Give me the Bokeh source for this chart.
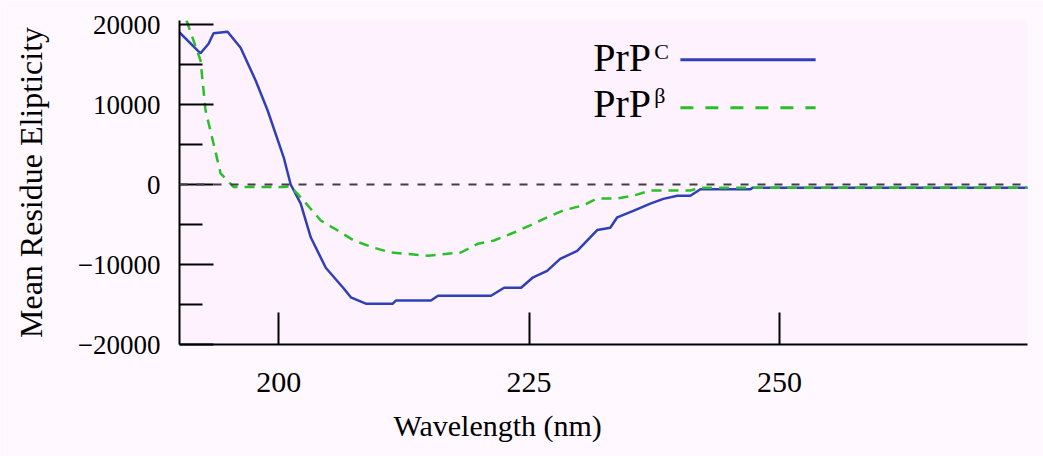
from bokeh.plotting import figure
from bokeh.models import Range1d, FixedTicker, Label, Span, Title
from bokeh.embed import file_html
from bokeh.resources import INLINE

# PrP^C (solid blue) - wavelength (nm), mean residue ellipticity
wl_c = [190.1, 192.2, 193.0, 193.5, 194.9, 196.2, 197.7, 198.9, 200.5, 201.2,
        202.2, 203.2, 204.7, 206.5, 207.2, 208.7, 211.4, 211.7, 215.2, 215.9,
        221.2, 222.5, 224.2, 225.4, 226.8, 228.1, 229.8, 231.8, 233.1, 233.8,
        235.4, 237.1, 238.4, 239.8, 241.1, 242.1, 247.1, 247.3, 274.8]
mre_c = [19000, 16400, 17600, 18900, 19100, 17100, 13000, 9250, 3400, 0,
         -2400, -6600, -10400, -13000, -14100, -14900, -14900, -14500, -14500, -13900,
         -13900, -12900, -12900, -11600, -10800, -9300, -8300, -5700, -5400, -4100,
         -3300, -2400, -1800, -1400, -1400, -600, -600, -400, -400]

# PrP^beta (dashed green)
wl_b = [190.8, 192.2, 192.7, 193.5, 194.2, 195.5, 200.5, 201.2, 202.2, 204.2,
        205.9, 207.5, 209.5, 211.2, 214.9, 218.2, 219.9, 221.5, 223.5, 225.1,
        226.8, 228.4, 230.4, 231.8, 233.8, 235.4, 237.1, 241.1, 242.1, 274.8]
mre_b = [20500, 15500, 9250, 5100, 1400, -300, -300, -250, -1600, -4500,
         -5750, -7000, -7900, -8500, -8900, -8500, -7400, -7000, -6000, -5100,
         -4100, -3250, -2600, -1750, -1750, -1400, -750, -750, -400, -400]

x_ticks = [200, 225, 250]
y_ticks = [-20000, -10000, 0, 10000, 20000]
y_minor = [-15000, -5000, 5000, 15000]
series_names = ["PrP", "PrP"]
series_sup = ["C", "\u03b2"]

SERIF = "Liberation Serif"
BLUE = "#2f3fb8"
GREEN = "#28c028"

p = figure(width=1043, height=456,
           x_range=Range1d(190.1, 274.75), y_range=Range1d(-20000, 20500),
           min_border_left=179, min_border_right=16, min_border_top=20,
           min_border_bottom=112, toolbar_location=None, output_backend="svg")
p.background_fill_color = "#fdf2fd"
p.border_fill_color = "#fff8ff"
p.outline_line_color = None
p.xgrid.visible = False
p.ygrid.visible = False

xa = p.xaxis[0]
xa.ticker = FixedTicker(ticks=x_ticks, minor_ticks=[])
xa.axis_line_width = 2
xa.axis_line_color = "black"
xa.major_tick_line_width = 2
xa.major_tick_line_color = "black"
xa.major_tick_in = 32
xa.major_tick_out = 0
xa.minor_tick_line_color = None
xa.major_label_text_font = SERIF
xa.major_label_text_font_size = "30px"
xa.major_label_text_color = "black"
xa.major_label_standoff = 28

ya = p.yaxis[0]
ya.ticker = FixedTicker(ticks=y_ticks, minor_ticks=y_minor)
ya.axis_line_width = 2
ya.axis_line_color = "black"
ya.major_tick_line_width = 2
ya.major_tick_line_color = "black"
ya.minor_tick_line_width = 2
ya.minor_tick_line_color = "black"
ya.major_tick_in = 34
ya.major_tick_out = 0
ya.minor_tick_in = 23
ya.minor_tick_out = 0
ya.major_label_text_font = SERIF
ya.major_label_text_font_size = "27px"
ya.major_label_text_color = "black"
ya.major_label_standoff = 19
ya.axis_label = "Mean Residue Elipticity"
ya.axis_label_text_font = SERIF
ya.axis_label_text_font_size = "32px"
ya.axis_label_text_font_style = "normal"
ya.axis_label_text_color = "black"
ya.axis_label_standoff = 26

p.add_layout(Span(location=0, dimension="width", line_color="#404040",
                  line_width=2, line_dash="8 9"))

p.line(wl_c, mre_c, line_color=BLUE, line_width=2.5)
p.line(wl_b, mre_b, line_color=GREEN, line_width=2.5, line_dash="10 7")

# legend (text on the left, sample line on the right)
p.line([240.1, 253.6], [15600, 15600], line_color=BLUE, line_width=3)
p.line([240.1, 253.6], [9600, 9600], line_color=GREEN, line_width=3, line_dash="13 12")
for name, sup, yb, ys in zip(series_names, series_sup, [15900, 10150], [16600, 11100]):
    p.add_layout(Label(x=231.4, y=yb, text=name, text_font=SERIF, text_font_size="40px",
                       text_baseline="alphabetic", text_color="black"))
    p.add_layout(Label(x=237.5, y=ys, text=sup, text_font=SERIF, text_font_size="22px",
                       text_baseline="alphabetic", text_color="black"))

p.add_layout(Title(text="Wavelength (nm)", text_font=SERIF, text_font_size="30px",
                   text_font_style="normal", text_color="black", align="left",
                   offset=214, standoff=25), "below")

open("out.html", "w").write(file_html(p, INLINE))
